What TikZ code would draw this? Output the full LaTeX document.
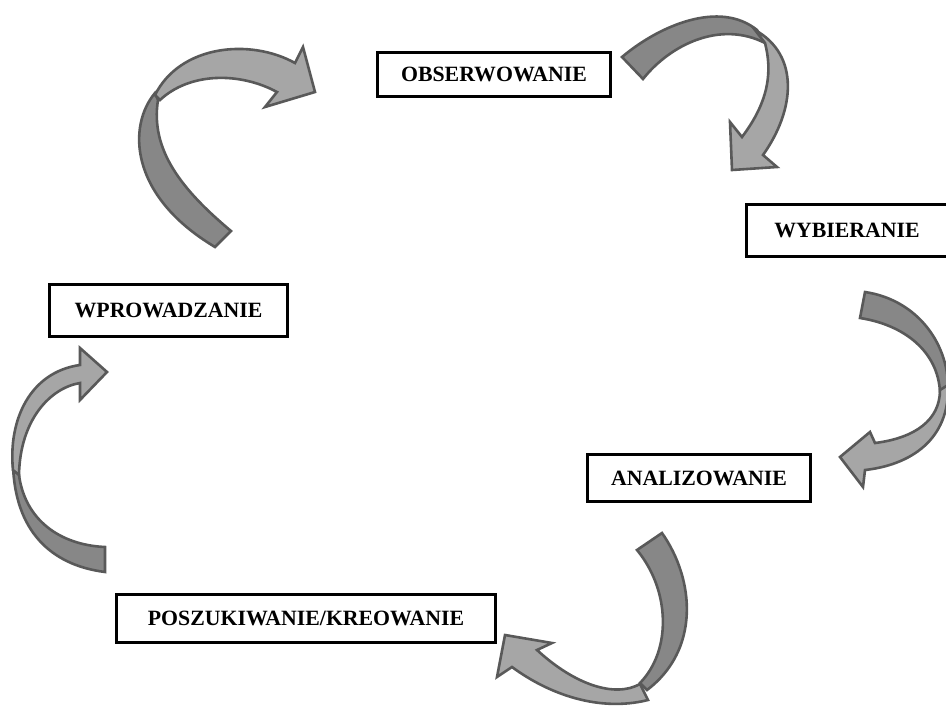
\documentclass[tikz,border=0pt]{standalone}
\usepackage{fontspec}
\setmainfont{Liberation Serif}
\usepackage{tikz}
\definecolor{bandline}{HTML}{595959}
\definecolor{bandback}{HTML}{878787}
\definecolor{bandfront}{HTML}{A6A6A6}
\tikzstyle{stage} = [rectangle, draw=black, line width=2.6pt, fill=white,
    text centered, inner sep=0pt, font=\bfseries\fontsize{21.8}{26}\selectfont]
\tikzstyle{back} = [fill=bandback, draw=bandline, line width=2.6pt, line join=miter]
\tikzstyle{front} = [fill=bandfront, draw=bandline, line width=2.6pt, line join=miter]

\begin{document}
\begin{tikzpicture}[x=1pt, y=-1pt]
    \useasboundingbox (0,0) rectangle (946,710);

    \node [stage, minimum width=233pt, minimum height=44pt] (obs) at (494,74.5) {OBSERWOWANIE};
    \node [stage, minimum width=201pt, minimum height=52pt] (wyb) at (847,230.5) {WYBIERANIE};
    \node [stage, minimum width=238pt, minimum height=52pt] (wpr) at (168.5,310.5) {WPROWADZANIE};
    \node [stage, minimum width=223pt, minimum height=47pt] (ana) at (699,478) {ANALIZOWANIE};
    \node [stage, minimum width=379pt, minimum height=48pt] (posz) at (306,618.5) {POSZUKIWANIE/KREOWANIE};

    % wprowadzanie -> obserwowanie
    \path [back] (215,247) -- (231,231) .. controls (182,190) and (150,150) .. (158,100)
        -- (155,93) .. controls (128,125) and (128,195) .. (215,247) -- cycle;
    \path [front] (155,95) .. controls (180,45) and (250,38) .. (295,63) -- (303,47) -- (315,92)
        -- (265,107) -- (277,92) .. controls (240,72) and (190,72) .. (160,100) -- cycle;

    % obserwowanie -> wybieranie
    \path [back] (622,57) .. controls (660,25) and (720,0) .. (757,30)
        -- (765,43) .. controls (720,20) and (670,45) .. (643,79) -- cycle;
    \path [front] (755,30) .. controls (800,55) and (795,110) .. (763,155) -- (777,167) -- (732,170)
        -- (730,122) -- (742,137) .. controls (770,100) and (772,70) .. (765,43) -- cycle;

    % wybieranie -> analizowanie
    \path [back] (865,292) .. controls (918,300) and (950,345) .. (948,392)
        -- (940,392) .. controls (938,352) and (905,325) .. (860,318) -- cycle;
    \path [front] (948,385) .. controls (950,440) and (910,465) .. (865,470) -- (863,487) -- (840,457)
        -- (870,432) -- (875,443) .. controls (915,438) and (940,420) .. (940,390) -- cycle;

    % analizowanie -> poszukiwanie
    \path [back] (662,533) .. controls (695,580) and (700,650) .. (647,690)
        -- (640,683) .. controls (672,650) and (670,590) .. (637,550) -- cycle;
    \path [front] (648,700) .. controls (600,712) and (550,695) .. (512,667) -- (497,677) -- (505,635)
        -- (552,643) -- (537,650) .. controls (575,685) and (615,698) .. (640,684) -- cycle;

    % poszukiwanie -> wprowadzanie
    \path [back] (105,572) .. controls (50,565) and (15,530) .. (13,465)
        -- (19,475) .. controls (25,520) and (60,545) .. (105,547) -- cycle;
    \path [front] (13,470) .. controls (8,420) and (30,372) .. (80,365) -- (80,348) -- (107,372)
        -- (80,400) -- (80,383) .. controls (50,388) and (20,420) .. (19,475) -- cycle;

\end{tikzpicture}
\end{document}
